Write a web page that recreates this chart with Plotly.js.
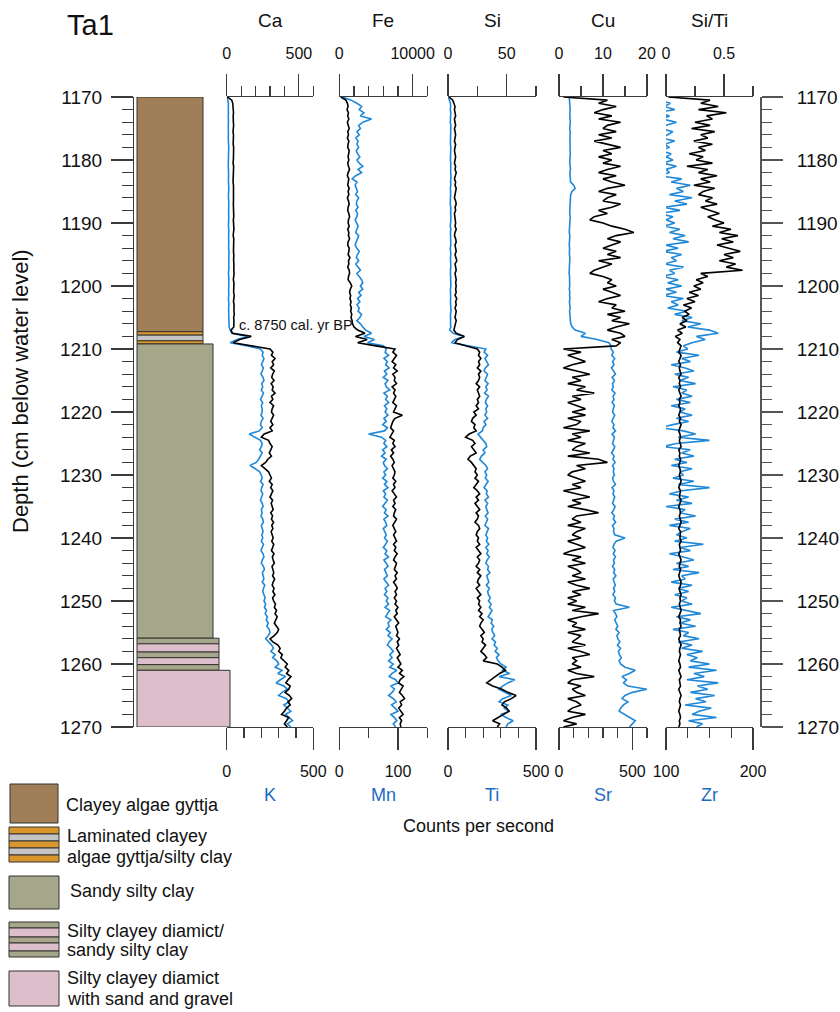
<!DOCTYPE html>
<html><head><meta charset="utf-8">
<script src="https://cdn.plot.ly/plotly-3.0.1.min.js"></script>
<style>html,body{margin:0;padding:0;background:#fff}#chart{width:840px;height:1012px}</style>
</head><body><div id="chart"></div>
<script>
// ---------- DATA ----------
const depth = [
1170,1170.5,1171,1171.5,1172,1172.5,1173,1173.5,1174,1174.5,1175,1175.5,1176,1176.5,1177,1177.5,1178,1178.5,1179,1179.5,
1180,1180.5,1181,1181.5,1182,1182.5,1183,1183.5,1184,1184.5,1185,1185.5,1186,1186.5,1187,1187.5,1188,1188.5,1189,1189.5,
1190,1190.5,1191,1191.5,1192,1192.5,1193,1193.5,1194,1194.5,1195,1195.5,1196,1196.5,1197,1197.5,1198,1198.5,1199,1199.5,
1200,1200.5,1201,1201.5,1202,1202.5,1203,1203.5,1204,1204.5,1205,1205.5,1206,1206.5,1207,1207.5,1208,1208.5,1209,1209.5,
1210,1210.5,1211,1211.5,1212,1212.5,1213,1213.5,1214,1214.5,1215,1215.5,1216,1216.5,1217,1217.5,1218,1218.5,1219,1219.5,
1220,1220.5,1221,1221.5,1222,1222.5,1223,1223.5,1224,1224.5,1225,1225.5,1226,1226.5,1227,1227.5,1228,1228.5,1229,1229.5,
1230,1230.5,1231,1231.5,1232,1232.5,1233,1233.5,1234,1234.5,1235,1235.5,1236,1236.5,1237,1237.5,1238,1238.5,1239,1239.5,
1240,1240.5,1241,1241.5,1242,1242.5,1243,1243.5,1244,1244.5,1245,1245.5,1246,1246.5,1247,1247.5,1248,1248.5,1249,1249.5,
1250,1250.5,1251,1251.5,1252,1252.5,1253,1253.5,1254,1254.5,1255,1255.5,1256,1256.5,1257,1257.5,1258,1258.5,1259,1259.5,
1260,1260.5,1261,1261.5,1262,1262.5,1263,1263.5,1264,1264.5,1265,1265.5,1266,1266.5,1267,1267.5,1268,1268.5,1269,1269.5,
1270];

// black series (top axes)
const caCps = [
5,35,42,45,44,47,45,43,46,48,45,44,47,46,44,45,48,46,44,47,
46,44,48,47,45,49,46,44,47,48,46,45,49,47,46,48,45,47,49,46,
48,46,50,47,45,49,48,46,50,47,49,46,48,50,47,49,51,48,46,50,
49,51,48,52,50,47,51,49,50,53,48,50,52,49,30,40,170,90,45,175,
300,320,310,335,315,325,305,330,318,312,328,308,322,315,335,310,320,300,325,315,
310,325,315,305,320,300,315,260,240,290,300,315,305,295,310,285,270,240,265,290,
300,310,295,315,305,320,310,300,318,308,315,322,305,318,310,325,312,320,308,316,
322,312,326,318,310,328,316,322,330,314,320,326,318,332,322,315,328,320,334,318,
325,338,330,345,335,350,340,330,345,360,350,330,300,320,355,370,360,385,375,395,
420,405,430,415,445,425,410,440,430,405,435,450,425,440,415,400,380,430,415,400,
420];
const feCps = [
200,900,1100,1200,1050,1250,1150,1300,1100,1200,1350,1150,1250,1100,1300,1200,1150,1350,1250,1200,
1300,1150,1250,1400,1200,1100,1300,1250,1150,1350,1200,1300,1100,1250,1350,1200,1150,1300,1400,1250,
1200,1350,1150,1300,1250,1400,1200,1150,1350,1300,1200,1450,1250,1300,1150,1350,1400,1250,1200,1500,
1700,1500,1400,1550,1450,1600,1500,1650,1550,1700,1600,1750,1800,2000,2500,3500,2200,3800,2500,5000,
7600,7300,7800,7500,7200,7700,7400,7900,7300,7600,7500,7800,7200,7600,7400,7700,7500,7300,7800,7600,
7400,8600,7600,7300,7200,7000,7400,7100,6900,7500,7300,7600,7100,7400,7000,7300,7500,7200,7400,7600,
7500,7300,7700,7400,7600,7200,7500,7800,7400,7600,7300,7700,7500,7400,7800,7600,7300,7500,7700,7400,
7600,7800,7400,7700,7500,7900,7600,7400,7800,7700,7500,7900,7600,7800,7400,7700,7900,7600,7800,7500,
7800,7600,8000,7700,7900,7500,7800,8100,7700,7900,8000,7800,8200,7900,8100,7800,8000,8300,7900,8200,
8400,8000,8600,8200,8800,8300,8100,8700,8400,8200,8600,8900,8300,8500,8100,8400,8700,8200,8500,8300,
8400];
const siCps = [
1,4,5,6,5.5,6,6.5,5.5,6,6.5,5.5,6,6.5,6,5.5,6.5,6,5.5,6,6.5,
6,5.5,6.5,6,7,6,5.5,6.5,6,7,6.5,6,5.5,6.5,7,6,6.5,5.5,6,6.5,
6.5,6,7,6,5.5,6.5,7,6,6.5,7,6,6.5,7.5,6,6.5,7,6,6.5,7,6.5,
7,6.5,7,6,7.5,6.5,7,6,7,6.5,6,7,6.5,6,5,7,14,8,6,15,
25,27,26,28,26,27,25,28,26,27,26,24,27,25,26,27,25,26,24,26,
22,24,21,20,23,22,24,18,15,21,23,20,22,24,19,17,20,22,24,23,
25,23,26,24,22,25,27,24,26,23,25,27,24,26,25,23,26,27,25,24,
26,25,27,24,26,28,25,27,26,24,27,25,28,26,25,27,24,26,28,25,
27,26,28,26,29,27,30,28,27,29,31,28,30,29,32,30,28,31,33,30,
42,46,49,44,40,36,33,38,46,51,58,54,48,46,50,52,47,42,38,44,
42];
const cuCps = [
1,11,9,13,10,8,12,9,14,11,10,13,9,12,8,11,14,10,12,9,
12,10,14,11,9,13,10,12,15,11,9,13,11,10,14,12,9,11,8,7,
10,12,15,17,13,11,14,12,10,13,11,14,9,12,10,8,7,10,12,11,
13,10,12,14,11,9,13,12,15,11,14,12,16,13,11,14,15,12,14,13,
1,5,2,4,6,3,1,4,7,3,5,2,6,4,8,3,5,2,4,6,
3,6,2,5,4,1,7,3,5,2,6,4,3,7,2,9,11,4,6,3,
2,4,6,3,5,1,4,7,3,5,2,6,9,4,3,5,2,6,4,3,
5,2,4,6,3,1,5,3,6,2,4,5,3,6,2,4,7,3,5,2,
4,2,6,3,9,5,2,4,3,6,2,5,4,3,6,2,5,7,3,4,
3,5,2,4,8,3,2,5,3,4,6,2,4,5,3,2,6,3,1,4,
1];
const siTiRatio = [
0.02,0.38,0.30,0.45,0.28,0.52,0.35,0.40,0.25,0.38,0.22,0.42,0.30,0.36,0.24,0.40,0.28,0.34,0.20,0.32,
0.26,0.40,0.18,0.36,0.28,0.44,0.30,0.38,0.24,0.42,0.32,0.28,0.40,0.34,0.44,0.30,0.38,0.46,0.36,0.42,
0.50,0.40,0.56,0.46,0.62,0.48,0.58,0.44,0.54,0.64,0.50,0.58,0.46,0.60,0.52,0.66,0.30,0.36,0.26,0.32,
0.24,0.30,0.20,0.28,0.18,0.25,0.15,0.22,0.16,0.20,0.14,0.18,0.12,0.17,0.10,0.14,0.08,0.12,0.10,0.13,
0.12,0.11,0.13,0.12,0.11,0.125,0.115,0.12,0.13,0.11,0.12,0.115,0.125,0.11,0.12,0.13,0.115,0.12,0.11,0.125,
0.12,0.11,0.125,0.115,0.13,0.12,0.11,0.12,0.125,0.115,0.12,0.13,0.11,0.12,0.115,0.125,0.12,0.11,0.12,0.125,
0.115,0.12,0.13,0.12,0.11,0.125,0.12,0.115,0.13,0.12,0.11,0.12,0.125,0.115,0.12,0.13,0.12,0.11,0.125,0.12,
0.12,0.13,0.115,0.12,0.125,0.11,0.12,0.13,0.12,0.115,0.125,0.12,0.11,0.12,0.13,0.125,0.115,0.12,0.13,0.12,
0.125,0.115,0.12,0.13,0.12,0.11,0.125,0.12,0.13,0.115,0.12,0.125,0.11,0.12,0.13,0.12,0.115,0.125,0.12,0.11,
0.12,0.125,0.11,0.12,0.13,0.115,0.12,0.125,0.11,0.12,0.13,0.12,0.115,0.125,0.12,0.11,0.12,0.125,0.115,0.12,
0.11];

// blue series (bottom axes)
const kCps = [
2,8,10,9,11,10,9,11,10,9,10,12,10,9,11,10,12,11,10,9,
10,11,9,10,12,11,10,9,11,12,10,11,10,12,11,9,10,11,12,10,
11,10,12,11,9,11,12,10,11,13,12,10,11,12,13,11,10,12,13,11,
12,11,13,12,10,12,13,11,12,14,13,12,15,14,20,30,120,60,20,120,
195,210,205,215,208,200,212,205,198,210,215,202,208,200,212,205,195,208,200,205,
205,198,210,200,195,205,188,130,160,195,205,200,190,205,195,185,170,135,165,190,
200,205,195,210,202,198,208,200,195,205,210,200,205,198,208,212,200,205,210,203,
208,200,212,205,198,210,215,205,200,212,218,206,210,215,205,220,212,208,215,222,
215,225,218,230,222,235,228,240,232,245,250,240,225,245,260,270,255,280,265,290,
300,280,320,295,340,310,285,330,350,320,300,345,360,330,350,370,340,360,380,350,
370];
const mnCps = [
5,20,30,38,34,42,36,55,40,33,36,30,34,28,32,30,33,29,31,35,
30,34,40,32,38,28,22,30,27,29,31,28,33,30,29,32,28,31,30,27,
29,32,30,28,33,31,29,27,30,34,31,29,33,28,32,36,30,34,38,40,
36,40,33,37,31,35,30,34,32,38,35,30,36,40,45,55,42,60,48,75,
80,78,84,76,82,79,85,77,81,75,83,78,80,86,76,82,79,84,77,81,
78,83,76,80,74,82,77,50,72,79,76,81,74,78,72,80,75,77,82,76,
79,74,81,77,83,75,79,76,82,78,74,80,77,83,76,79,81,75,78,80,
77,82,79,75,81,78,84,76,80,83,77,79,82,76,80,84,78,81,77,83,
80,84,78,86,82,79,88,83,85,80,87,83,90,85,82,88,92,86,90,84,
92,86,98,90,85,96,100,88,94,90,84,92,97,89,95,100,88,94,98,92,
96];
const tiCps = [
2,10,14,15,13,16,14,15,13,16,15,14,16,13,15,14,16,15,13,15,
14,16,15,13,15,17,14,15,16,13,15,14,16,15,13,16,14,15,17,14,
15,13,16,14,15,17,14,16,13,15,16,14,15,17,16,14,15,16,14,15,
16,14,15,17,15,14,16,15,17,14,16,15,14,16,10,30,90,40,20,120,
215,205,225,210,220,230,212,205,225,218,210,228,215,222,208,230,218,212,225,215,
220,210,225,205,215,200,195,170,185,205,215,220,200,210,190,180,200,215,225,210,
220,212,228,215,205,222,218,230,210,225,215,220,228,212,225,218,210,230,222,215,
225,218,232,215,228,220,235,222,215,230,225,238,220,228,232,218,235,225,230,240,
230,245,235,250,240,228,252,245,260,248,255,265,250,270,262,280,268,290,275,285,
300,330,310,350,290,380,340,310,290,330,360,310,290,340,320,350,300,330,370,340,
330];
const srCps = [
70,72,75,73,76,74,72,75,77,74,73,76,75,72,74,76,73,75,77,74,
75,73,76,78,74,77,75,79,100,110,88,80,78,76,74,77,75,73,76,74,
73,75,72,70,74,71,73,70,72,69,71,74,72,70,73,71,69,72,74,71,
73,70,74,72,75,71,73,76,72,74,78,75,80,90,110,180,150,260,340,355,
355,370,360,380,365,375,358,372,385,362,378,365,370,360,382,368,375,362,378,370,
365,380,372,360,375,368,385,362,378,370,365,380,372,358,376,368,382,365,375,370,
378,365,372,385,362,375,368,380,370,365,382,374,360,378,370,386,365,375,372,380,
450,390,375,368,382,370,385,372,378,365,380,372,388,370,376,384,372,380,368,385,
378,390,480,372,385,395,380,392,400,388,410,395,402,415,398,420,405,412,425,410,
420,450,520,480,430,460,440,470,600,500,450,430,470,440,420,410,450,480,520,500,
480];
const zrCps = [
100,92,105,98,110,88,104,96,112,100,94,108,102,95,110,98,104,92,106,100,
108,96,112,100,104,92,118,106,128,112,120,104,130,110,124,98,116,92,108,100,
110,98,116,104,122,108,126,100,114,96,118,106,112,98,120,104,110,96,114,102,
118,100,112,96,120,106,114,102,124,110,130,118,140,125,150,160,135,145,130,120,
125,112,138,118,128,106,122,132,110,126,116,134,108,124,118,130,112,128,106,122,
116,130,112,126,108,93,120,134,114,150,112,96,128,118,132,110,124,106,130,116,
120,108,132,114,150,118,104,126,112,130,100,122,116,134,110,126,104,128,118,112,
124,110,143,116,128,104,120,132,112,126,108,138,118,122,106,130,114,126,110,124,
118,130,106,124,140,112,128,116,134,108,126,120,138,114,130,118,142,124,136,128,
150,126,158,132,144,124,160,136,148,128,156,134,146,122,152,138,130,158,126,142,
135];

// panel labels
const topNames = ['Ca','Fe','Si','Cu','Si/Ti'];
const bottomNames = ['K','Mn','Ti','Sr','Zr'];
const topRanges = [[0,600],[0,12000],[0,75],[0,20],[0,0.75]];
const topMajor = [500,10000,50,10,0.5];
const topMinor = [100,2000,25,5,0.25];
const bottomRanges = [[0,500],[0,150],[0,500],[0,600],[100,200]];
const bottomMajor = [500,100,500,500,100];
const bottomMinor = [100,50,100,100,25];

// lithology (depth in cm)
const lithTop  = [1170, 1207.25, 1207.8, 1208.7, 1209.2, 1255.9, 1256.8, 1258.1, 1259.0, 1260.1, 1261.0];
const lithBase = [1207.25, 1207.8, 1208.7, 1209.2, 1255.9, 1256.8, 1258.1, 1259.0, 1260.1, 1261.0, 1270];
const lithType = ['gyttja','lamOrange','lamGrey','lamOrange','sandy','diaGreen','diaPink','diaGreen','diaPink','diaGreen','diamict'];

const legendLines = [
  ['Clayey algae gyttja'],
  ['Laminated clayey','algae gyttja/silty clay'],
  ['Sandy silty clay'],
  ['Silty clayey diamict/','sandy silty clay'],
  ['Silty clayey diamict','with sand and gravel']
];

// ---------- STYLE / LAYOUT ----------
const W = 840, H = 1012;
const px = x => x / W, py = y => 1 - y / H;
const FONT = 'Liberation Sans, Arial, Helvetica, sans-serif';
const AX = '#3a3a3a', BLUE = '#1f88d9', BLUE_TXT = '#1c6cbf';
const panelPx = [[226.7,313.3],[339.3,427.3],[448,536],[559,647],[666,753]];
const yDom = [py(727), py(97)];
const typeStyle = {
  gyttja:   {fill:'#A07F58', right:203},
  lamOrange:{fill:'#D9962C', right:203},
  lamGrey:  {fill:'#C4C4C4', right:203},
  sandy:    {fill:'#A6A68A', right:213},
  diaGreen: {fill:'#A6A68A', right:219},
  diaPink:  {fill:'#DDBFCB', right:219},
  diamict:  {fill:'#DDBFCB', right:230}
};

const traces = [];
const layout = {
  width: W, height: H, margin:{l:0,r:0,t:0,b:0},
  paper_bgcolor:'#fff', plot_bgcolor:'rgba(0,0,0,0)',
  showlegend:false, font:{family:FONT, color:'#111'},
  shapes:[], annotations:[]
};

function axisBase(dom, range, dtick, minorStep, side) {
  return {
    domain:[px(dom[0]), px(dom[1])], range:range, anchor:'y', side:side,
    showline:true, linecolor:AX, linewidth:1.2,
    ticks:'outside', ticklen:22, tickwidth:1.2, tickcolor:AX,
    tickmode:'linear', tick0:range[0], dtick:dtick, exponentformat:'none', separatethousands:false,
    minor:{ticks:'outside', dtick:minorStep, tick0:range[0], ticklen:10, tickwidth:1.2, tickcolor:AX, showgrid:false},
    showgrid:false, zeroline:false, automargin:false, fixedrange:true,
    tickfont:{size:16, color:'#111', family:FONT}, ticklabelstandoff:8
  };
}

for (let i = 0; i < 5; i++) {
  const bName = i === 0 ? 'x' : 'x' + (2*i+1);
  const tName = 'x' + (2*i+2);
  const bKey = i === 0 ? 'xaxis' : 'xaxis' + (2*i+1);
  const tKey = 'xaxis' + (2*i+2);
  layout[bKey] = axisBase(panelPx[i], bottomRanges[i], bottomMajor[i], bottomMinor[i], 'bottom');
  const ta = axisBase(panelPx[i], topRanges[i], topMajor[i], topMinor[i], 'top');
  ta.overlaying = bName;
  if (topMajor[i] >= 1000) ta.tickformat = 'd';
  layout[tKey] = ta;
  const bSeries = [kCps, mnCps, tiCps, srCps, zrCps][i];
  const tSeries = [caCps, feCps, siCps, cuCps, siTiRatio][i];
  traces.push({x:bSeries, y:depth, xaxis:bName, yaxis:'y', mode:'lines',
    line:{color:BLUE, width:1.6}, hoverinfo:'skip'});
  traces.push({x:tSeries, y:depth, xaxis:tName, yaxis:'y', mode:'lines',
    line:{color:'#000', width:1.6}, hoverinfo:'skip'});
  const cx = (panelPx[i][0] + panelPx[i][1]) / 2;
  layout.annotations.push({text:topNames[i], x:px(cx), y:py(21), xref:'paper', yref:'paper',
    xanchor:'center', yanchor:'middle', showarrow:false, font:{size:19, color:'#111'}});
  layout.annotations.push({text:bottomNames[i], x:px(cx), y:py(795), xref:'paper', yref:'paper',
    xanchor:'center', yanchor:'middle', showarrow:false, font:{size:18, color:BLUE_TXT}});
}

const depthAxis = {
  domain:yDom, range:[1270,1170], anchor:'free', position:px(133), side:'left',
  showline:true, linecolor:AX, linewidth:1.2,
  ticks:'outside', ticklen:22, tickwidth:1.2, tickcolor:AX,
  tickmode:'linear', tick0:1170, dtick:10,
  minor:{ticks:'outside', dtick:2, tick0:1170, ticklen:11, tickwidth:1.2, tickcolor:AX, showgrid:false},
  showgrid:false, zeroline:false, automargin:false, fixedrange:true,
  tickfont:{size:19, color:'#111', family:FONT}, ticklabelstandoff:5
};
layout.yaxis = depthAxis;
layout.yaxis2 = Object.assign({}, depthAxis, {overlaying:'y', side:'right', position:px(761),
  linecolor:'#555', linewidth:2, tickcolor:'#555', ticklen:21, ticklabelstandoff:10,
  minor:{ticks:'outside', dtick:2, tick0:1170, ticklen:10, tickwidth:1.2, tickcolor:'#555', showgrid:false}});
traces.push({x:[null], y:[null], xaxis:'x', yaxis:'y2', mode:'lines', hoverinfo:'skip'});

// lithology column
for (let j = 0; j < lithTop.length; j++) {
  const st = typeStyle[lithType[j]];
  layout.shapes.push({type:'rect', xref:'paper', yref:'y', x0:px(137), x1:px(st.right),
    y0:lithTop[j], y1:lithBase[j], fillcolor:st.fill, line:{color:'#333', width:1}, layer:'above'});
}

// legend swatches
function rect(x0,y0,x1,y1,fill){
  layout.shapes.push({type:'rect', xref:'paper', yref:'paper', x0:px(x0), x1:px(x1), y0:py(y1), y1:py(y0),
    fillcolor:fill, line:{color:'#333', width:1}});
}
rect(10,784,58,823,'#A07F58');
const lamCols = ['#D9962C','#C4C4C4','#D9962C','#C4C4C4','#D9962C'];
for (let s = 0; s < 5; s++) rect(9, 827 + s*7, 59, 834 + s*7, lamCols[s]);
rect(9,876,59,909,'#A6A68A');
const diaB = [922,928,937,943,951,957];
const diaCols = ['#A6A68A','#DDBFCB','#A6A68A','#DDBFCB','#A6A68A'];
for (let s = 0; s < 5; s++) rect(9, diaB[s], 59, diaB[s+1], diaCols[s]);
rect(9,971,59,1006,'#DDBFCB');

const legendY = [[805],[836,857],[891],[931,950],[978,999]];
const legendX = [64,65,68,65,65];
legendLines.forEach((lines, k) => lines.forEach((t, m) => {
  layout.annotations.push({text:t, x:px(legendX[k]), y:py(legendY[k][m]), xref:'paper', yref:'paper',
    xanchor:'left', yanchor:'middle', showarrow:false, font:{size:18, color:'#111'}});
}));

// other text
layout.annotations.push({text:'Ta1', x:px(90), y:py(25), xref:'paper', yref:'paper', xanchor:'center', yanchor:'middle',
  showarrow:false, font:{size:29, color:'#111'}});
layout.annotations.push({text:'Counts per second', x:px(478), y:py(826), xref:'paper', yref:'paper', xanchor:'center', yanchor:'middle',
  showarrow:false, font:{size:18, color:'#111'}});
layout.annotations.push({text:'Depth (cm below water level)', x:px(20), y:py(391), xref:'paper', yref:'paper', xanchor:'center', yanchor:'middle',
  textangle:-90, showarrow:false, font:{size:22, color:'#111'}});
layout.annotations.push({text:'c. 8750 cal. yr BP', x:px(237), y:py(325), xref:'paper', yref:'paper', xanchor:'left', yanchor:'middle',
  showarrow:false, font:{size:14.5, color:'#111'}});

Plotly.newPlot('chart', traces, layout, {staticPlot:true, displayModeBar:false});
</script></body></html>
